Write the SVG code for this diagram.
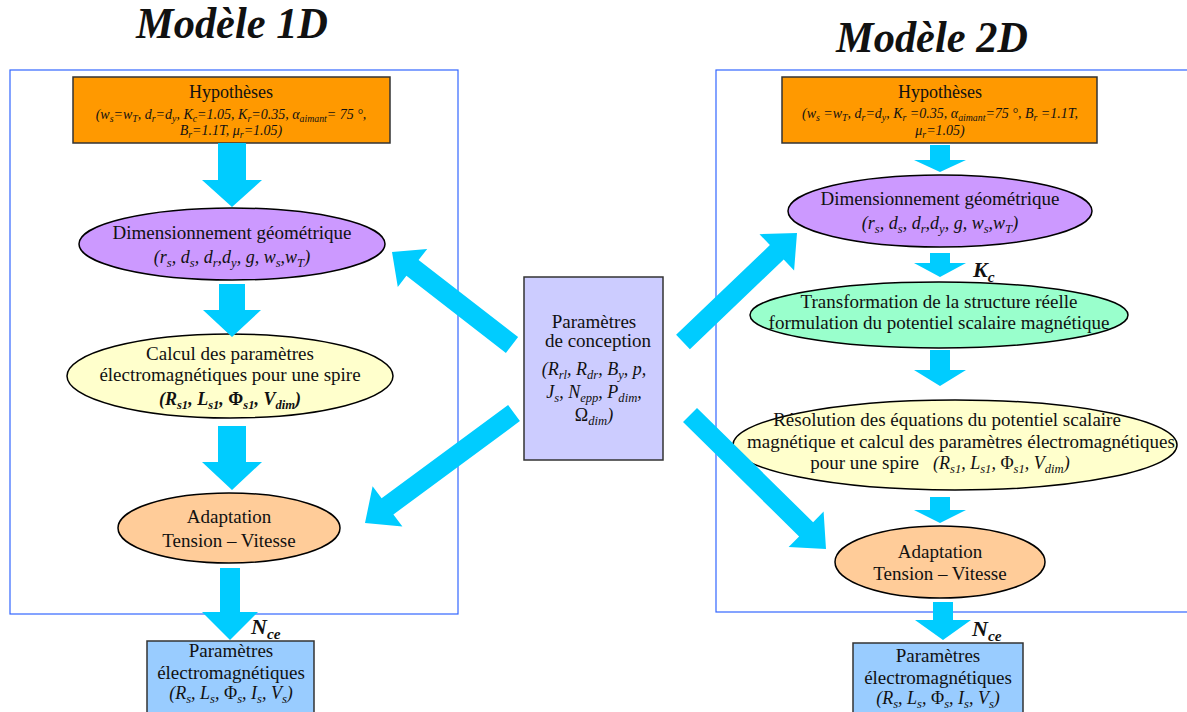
<svg xmlns="http://www.w3.org/2000/svg" width="1187" height="712" viewBox="0 0 1187 712">
<style>
text{font-family:"Liberation Serif","Times New Roman",serif;fill:#111;text-anchor:middle}
.t{font-size:19px}
.h{font-size:18px}
.p{font-size:14px;font-style:italic}
.f{font-size:18px;font-style:italic}
.fb{font-size:18px;font-style:italic;font-weight:bold}
.s{font-size:70%;baseline-shift:-0.3em}
.u{font-style:normal}
.title{font-size:44px;font-style:italic;font-weight:bold;text-anchor:start}
.lab{font-size:22px;font-style:italic;font-weight:bold;text-anchor:start}
.box{stroke:#333;stroke-width:1.5}
.ell{stroke:#000;stroke-width:1.5}
.arr{fill:#00CCFF}
.frame{fill:none;stroke:#3366FF;stroke-width:1.2}
</style>
<rect class="frame" x="10" y="70" width="448" height="544"/>
<rect class="frame" x="716" y="70" width="480" height="542"/>
<text class="title" x="136" y="38" textLength="192" lengthAdjust="spacingAndGlyphs">Modèle 1D</text>
<text class="title" x="836" y="52" textLength="192" lengthAdjust="spacingAndGlyphs">Modèle 2D</text>

<g id="hyp1">
<rect class="box" x="73" y="77" width="317" height="66" fill="#FF9900"/>
<text class="h" x="231" y="98">Hypothèses</text>
<text class="p" x="231" y="119">(w<tspan class="s">s</tspan>=w<tspan class="s">T</tspan>, d<tspan class="s">r</tspan>=d<tspan class="s">y</tspan>, K<tspan class="s">c</tspan>=1.05, K<tspan class="s">r</tspan>=0.35, α<tspan class="s">aimant</tspan>= 75 °,</text>
<text class="p" x="231" y="135">B<tspan class="s">r</tspan>=1.1T, μ<tspan class="s">r</tspan>=1.05)</text>
</g>
<g id="dim1">
<ellipse class="ell" cx="232" cy="244" rx="153" ry="36" fill="#CC99FF"/>
<text class="t" x="232" y="239">Dimensionnement géométrique</text>
<text class="f" x="232" y="263">(r<tspan class="s">s</tspan>, d<tspan class="s">s</tspan>, d<tspan class="s">r</tspan>,d<tspan class="s">y</tspan>, g, w<tspan class="s">s</tspan>,w<tspan class="s">T</tspan>)</text>
</g>
<g id="calc1">
<ellipse class="ell" cx="230" cy="376" rx="163" ry="42" fill="#FFFFCC"/>
<text class="t" x="230" y="360">Calcul des paramètres</text>
<text class="t" x="230" y="381">électromagnétiques pour une spire</text>
<text class="fb" x="230" y="405">(R<tspan class="s">s1</tspan>, L<tspan class="s">s1</tspan>, <tspan class="u">Φ</tspan><tspan class="s">s1</tspan>, V<tspan class="s">dim</tspan>)</text>
</g>
<g id="adapt1">
<ellipse class="ell" cx="229" cy="528" rx="111" ry="35" fill="#FFCC99"/>
<text class="t" x="229" y="523">Adaptation</text>
<text class="t" x="229" y="547">Tension – Vitesse</text>
</g>
<g id="elec1">
<rect class="box" x="147" y="641" width="167" height="76" fill="#99CCFF"/>
<text class="t" x="231" y="657">Paramètres</text>
<text class="t" x="231" y="679">électromagnétiques</text>
<text class="f" x="231" y="699">(R<tspan class="s">s</tspan>, L<tspan class="s">s</tspan>, <tspan class="u">Φ</tspan><tspan class="s">s</tspan>, I<tspan class="s">s</tspan>, V<tspan class="s">s</tspan>)</text>
</g>
<g id="conception">
<rect class="box" x="524" y="277" width="139" height="183" fill="#CCCCFF"/>
<text class="t" x="594" y="328">Paramètres</text>
<text class="t" x="598" y="347">de conception</text>
<text class="f" x="594" y="375">(R<tspan class="s">rl</tspan>, R<tspan class="s">dr</tspan>, B<tspan class="s">y</tspan>, p,</text>
<text class="f" x="594" y="398">J<tspan class="s">s</tspan>, N<tspan class="s">epp</tspan>, P<tspan class="s">dim</tspan>,</text>
<text class="f" x="594" y="421"><tspan class="u">Ω</tspan><tspan class="s">dim</tspan>)</text>
</g>
<g id="hyp2">
<rect class="box" x="782" y="77" width="315" height="66" fill="#FF9900"/>
<text class="h" x="940" y="98">Hypothèses</text>
<text class="p" x="940" y="118">(w<tspan class="s">s</tspan> =w<tspan class="s">T</tspan>, d<tspan class="s">r</tspan>=d<tspan class="s">y</tspan>, K<tspan class="s">r</tspan> =0.35, α<tspan class="s">aimant</tspan>=75 °, B<tspan class="s">r</tspan> =1.1T,</text>
<text class="p" x="940" y="135">μ<tspan class="s">r</tspan>=1.05)</text>
</g>
<g id="dim2">
<ellipse class="ell" cx="940" cy="211" rx="152" ry="36" fill="#CC99FF"/>
<text class="t" x="940" y="205">Dimensionnement géométrique</text>
<text class="f" x="940" y="229">(r<tspan class="s">s</tspan>, d<tspan class="s">s</tspan>, d<tspan class="s">r</tspan>,d<tspan class="s">y</tspan>, g, w<tspan class="s">s</tspan>,w<tspan class="s">T</tspan>)</text>
</g>
<g id="transf2">
<ellipse class="ell" cx="939" cy="315" rx="189" ry="33" fill="#99FFCC"/>
<text class="t" x="939" y="308">Transformation de la structure réelle</text>
<text class="t" x="939" y="329">formulation du potentiel scalaire magnétique</text>
</g>
<g id="resol2">
<ellipse class="ell" cx="955" cy="445" rx="222" ry="45" fill="#FFFFCC"/>
<text class="t" x="947" y="426">Résolution des équations du potentiel scalaire</text>
<text class="t" x="961" y="448">magnétique et calcul des paramètres électromagnétiques</text>
<text class="t" x="940" y="469">pour une spire<tspan class="f" dx="14">(R<tspan class="s">s1</tspan>, L<tspan class="s">s1</tspan>, <tspan class="u">Φ</tspan><tspan class="s">s1</tspan>, V<tspan class="s">dim</tspan>)</tspan></text>
</g>
<g id="adapt2">
<ellipse class="ell" cx="940" cy="562" rx="105" ry="36" fill="#FFCC99"/>
<text class="t" x="940" y="558">Adaptation</text>
<text class="t" x="940" y="580">Tension – Vitesse</text>
</g>
<g id="elec2">
<rect class="box" x="853" y="643" width="170" height="76" fill="#99CCFF"/>
<text class="t" x="938" y="662">Paramètres</text>
<text class="t" x="938" y="684">électromagnétiques</text>
<text class="f" x="938" y="704">(R<tspan class="s">s</tspan>, L<tspan class="s">s</tspan>, <tspan class="u">Φ</tspan><tspan class="s">s</tspan>, I<tspan class="s">s</tspan>, V<tspan class="s">s</tspan>)</text>
</g>

<g id="connectors">
<polygon class="arr" points="218,143 246,143 246,180 262,180 232,207 202,180 218,180"/>
<polygon class="arr" points="219,284 245,284 245,310 261,310 232,337 203,310 219,310"/>
<polygon class="arr" points="218,426 246,426 246,462 262,462 232,490 202,462 218,462"/>
<polygon class="arr" points="220,568 240,568 240,612 258,612 230,640 202,612 220,612"/>
<polygon class="arr" points="930,145 950,145 950,160 966,160 940,172 914,160 930,160"/>
<polygon class="arr" points="930,253 950,253 950,263 966,263 940,277 914,263 930,263"/>
<polygon class="arr" points="930,350 950,350 950,370 966,370 940,386 914,370 930,370"/>
<polygon class="arr" points="930,497 950,497 950,510 966,510 940,523 914,510 930,510"/>
<polygon class="arr" points="933,602 953,602 953,620 971,620 943,640 915,620 933,620"/>
<polygon class="arr" points="518.1,337.1 418.6,260 427.2,248.9 392,252 397.8,286.9 406.4,275.8 505.9,352.9"/>
<polygon class="arr" points="519.9,421.1 393.4,514.5 402.4,526.5 365,523 372.6,486.3 381.6,498.3 508.1,404.9"/>
<polygon class="arr" points="689.9,349.2 783.7,259.5 794.1,270.4 797,233 759.5,234.2 769.9,245.1 676.1,334.8"/>
<polygon class="arr" points="683,422.1 799.1,536.4 788.6,547.1 826,549 823.6,511.5 813.1,522.2 697,407.9"/>
<text class="lab" x="973" y="277">K<tspan class="s">c</tspan></text>
<text class="lab" x="251" y="634">N<tspan class="s">ce</tspan></text>
<text class="lab" x="972" y="636">N<tspan class="s">ce</tspan></text>
</g>
</svg>
